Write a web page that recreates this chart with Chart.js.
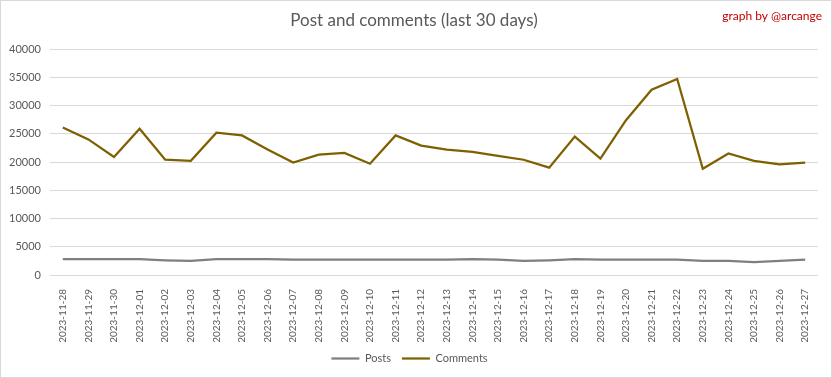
<!DOCTYPE html>
<html>
<head>
<meta charset="utf-8">
<script src="https://cdn.jsdelivr.net/npm/chart.js@4/dist/chart.umd.min.js"></script>
<style>
  html, body { margin: 0; padding: 0; background: #fff; }
  #wrap { position: relative; width: 830px; height: 376px; border: 1px solid #d9d9d9; }
</style>
</head>
<body>
<div id="wrap"><canvas id="graphs" width="830" height="376"></canvas></div>
<script>
const labels = [
  '2023-11-28', '2023-11-29', '2023-11-30', '2023-12-01', '2023-12-02', '2023-12-03',
  '2023-12-04', '2023-12-05', '2023-12-06', '2023-12-07', '2023-12-08', '2023-12-09',
  '2023-12-10', '2023-12-11', '2023-12-12', '2023-12-13', '2023-12-14', '2023-12-15',
  '2023-12-16', '2023-12-17', '2023-12-18', '2023-12-19', '2023-12-20', '2023-12-21',
  '2023-12-22', '2023-12-23', '2023-12-24', '2023-12-25', '2023-12-26', '2023-12-27'
];

const posts = [
  2800, 2800, 2800, 2800, 2600, 2500, 2800, 2800, 2800, 2700,
  2700, 2700, 2700, 2700, 2700, 2700, 2800, 2700, 2500, 2600,
  2800, 2700, 2700, 2700, 2700, 2500, 2500, 2300, 2500, 2700
];

const comments = [
  26100, 24000, 20900, 25900, 20400, 20200, 25200, 24700, 22200, 19900,
  21300, 21600, 19700, 24700, 22900, 22200, 21800, 21100, 20400, 19000,
  24500, 20600, 27400, 32800, 34700, 18800, 21500, 20200, 19600, 19900
];

const yTicks = [0, 5000, 10000, 15000, 20000, 25000, 30000, 35000, 40000];

const textColor = '#595959';
const font = 'Lato, "Open Sans", sans-serif';

// title and credit drawn on the canvas
const headerPlugin = {
  id: 'header',
  afterDraw(chart) {
    const ctx = chart.ctx;
    ctx.save();
    ctx.fillStyle = textColor;
    ctx.font = '17px ' + font;
    ctx.textAlign = 'center';
    ctx.textBaseline = 'middle';
    ctx.fillText('Post and comments (last 30 days)', 413, 20);
    ctx.fillStyle = '#c00000';
    ctx.font = '12px ' + font;
    ctx.textAlign = 'right';
    ctx.fillText('graph by @arcange', 821, 15);
    ctx.restore();
  }
};

let config = {
  type: 'line',
  data: {
    labels: labels,
    datasets: [
      {
        label: 'Posts',
        data: posts,
        borderColor: '#7f7f7f',
        backgroundColor: '#7f7f7f',
        borderWidth: 2.25,
        pointRadius: 0,
        tension: 0
      },
      {
        label: 'Comments',
        data: comments,
        borderColor: '#7f6000',
        backgroundColor: '#7f6000',
        borderWidth: 2.25,
        pointRadius: 0,
        tension: 0
      }
    ]
  },
  options: {
    responsive: false,
    animation: false,
    layout: { padding: { top: 48, right: 13, left: 0, bottom: 3 } },
    plugins: {
      title: { display: false },
      tooltip: { enabled: false },
      legend: {
        position: 'bottom',
        labels: {
          usePointStyle: true,
          pointStyle: 'line',
          pointStyleWidth: 28,
          boxHeight: 2,
          color: textColor,
          font: { family: font, size: 11 },
          padding: 11
        }
      }
    },
    scales: {
      x: {
        offset: true,
        grid: { display: false },
        border: { display: false },
        afterFit(scale) {
          scale.height = 67;
        },
        ticks: {
          color: textColor,
          font: { family: font, size: 10 },
          minRotation: 90,
          maxRotation: 90,
          autoSkip: false,
          padding: 6
        }
      },
      y: {
        min: 0,
        max: 40000,
        afterBuildTicks(scale) {
          scale.ticks = yTicks.map(v => ({ value: v }));
        },
        afterFit(scale) {
          scale.width = 49;
        },
        grid: { color: '#d9d9d9', drawTicks: false, lineWidth: 1 },
        border: { display: false },
        ticks: {
          color: textColor,
          font: { family: font, size: 11 },
          padding: 9,
          callback: v => String(v)
        }
      }
    }
  },
  plugins: [headerPlugin]
};

window.onload = function() {
  let ctx = document.querySelector('#graphs').getContext('2d');
  window.myChart = new Chart(ctx, config);
};
</script>
</body>
</html>
